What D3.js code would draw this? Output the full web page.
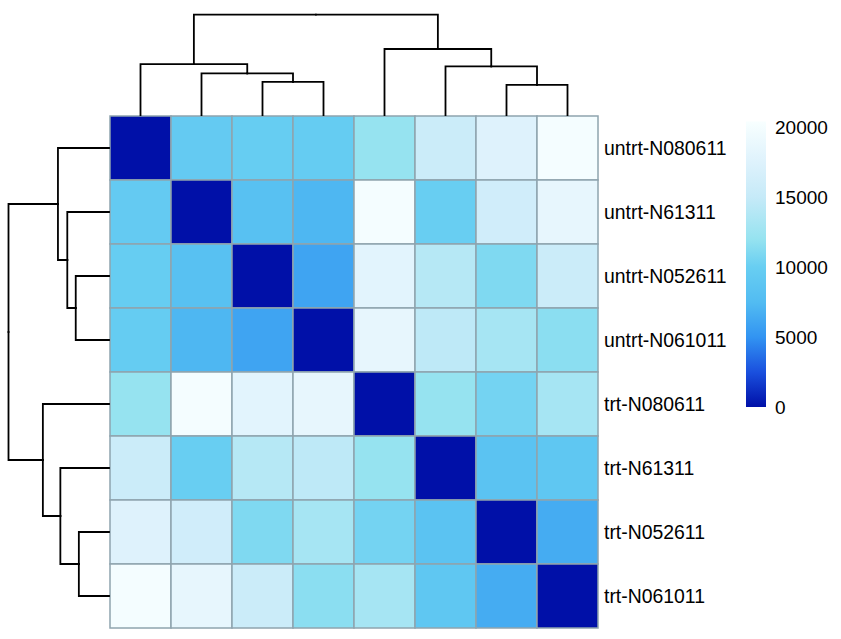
<!DOCTYPE html>
<html><head><meta charset="utf-8">
<script src="https://cdn.jsdelivr.net/npm/d3@7"></script>
<style>body{margin:0;background:#fff;} text{font-family:"Liberation Sans",Arial,Helvetica,sans-serif;}</style>
</head><body>
<svg id="chart" width="841" height="639"></svg>
<script>
// ---- data ----
const samples = ["untrt-N080611","untrt-N61311","untrt-N052611","untrt-N061011",
                 "trt-N080611","trt-N61311","trt-N052611","trt-N061011"];
const dist_untrt_N080611 = [0, 9500, 9800, 9700, 12000, 15500, 17500, 20000];
const dist_untrt_N61311  = [9500, 0, 8200, 7200, 20000, 10000, 16000, 18500];
const dist_untrt_N052611 = [9800, 8200, 0, 6000, 18000, 14000, 11000, 15500];
const dist_untrt_N061011 = [9700, 7200, 6000, 0, 18500, 14500, 13000, 11500];
const dist_trt_N080611   = [12000, 20000, 18000, 18500, 0, 12000, 10500, 13000];
const dist_trt_N61311    = [15500, 10000, 14000, 14500, 12000, 0, 8500, 9000];
const dist_trt_N052611   = [17500, 16000, 11000, 13000, 10500, 8500, 0, 6500];
const dist_trt_N061011   = [20000, 18500, 15500, 11500, 13000, 9000, 6500, 0];
const distRows = [dist_untrt_N080611, dist_untrt_N61311, dist_untrt_N052611, dist_untrt_N061011,
                  dist_trt_N080611, dist_trt_N61311, dist_trt_N052611, dist_trt_N061011];
// dendrograms: [height, left, right]; leaves are sample indices
const rowTree = [100, [50.8, 0, [41.5, 1, [33.1, 2, 3]]], [65.8, 4, [48.4, 5, [30, 6, 7]]]];
const colTree = [100, [50.8, 0, [41.5, 1, [33.1, 2, 3]]], [65.8, 4, [48.4, 5, [30, 6, 7]]]];
const legendTicks = [0, 5000, 10000, 15000, 20000];
const colorStops = [0, 2500, 5000, 7500, 10000, 12000, 15000, 17500, 20400];
const colorValues = ["#0010a8","#1a50de","#3294f2","#52bcf2","#68cef2","#96e3f0","#c6eaf8","#def2fc","#f8ffff"];

// ---- layout ----
const svg = d3.select("#chart");
const gx0 = 110, gx1 = 598, gy0 = 116, gy1 = 628;
const x = d3.scaleBand().domain(d3.range(samples.length)).range([gx0, gx1]);
const y = d3.scaleBand().domain(d3.range(samples.length)).range([gy0, gy1]);
const color = d3.scaleLinear().domain(colorStops).range(colorValues).interpolate(d3.interpolateRgb).clamp(true);

// cells
const cells = [];
distRows.forEach((row, i) => row.forEach((v, j) => cells.push({i, j, v})));
svg.append("g").selectAll("rect").data(cells).join("rect")
  .attr("x", d => x(d.j)).attr("y", d => y(d.i))
  .attr("width", x.bandwidth()).attr("height", y.bandwidth())
  .attr("fill", d => color(d.v))
  .attr("stroke", "#8fa4ae").attr("stroke-width", 1.5);

// dendrograms
function toHier(t) {
  if (typeof t === "number") return {leaf: t, h: 0};
  return {h: t[0], children: [toHier(t[1]), toHier(t[2])]};
}
function drawDendro(tree, posScale, hScale, horizontal) {
  const root = d3.hierarchy(toHier(tree));
  root.eachAfter(n => {
    n.pos = n.children ? d3.mean(n.children, c => c.pos) : posScale(n.data.leaf) + posScale.bandwidth() / 2;
  });
  const segs = [];
  root.each(n => {
    if (!n.children) return;
    const hp = hScale(n.data.h);
    n.children.forEach(c => {
      const hc = hScale(c.data.h);
      segs.push([[c.pos, hc], [c.pos, hp], [n.pos, hp]]);
    });
  });
  const line = d3.line().x(p => horizontal ? p[1] : p[0]).y(p => horizontal ? p[0] : p[1]);
  svg.append("g").selectAll("path").data(segs).join("path")
    .attr("d", line).attr("fill", "none").attr("stroke", "#000").attr("stroke-width", 1.8)
    .attr("stroke-linecap", "square");
}
drawDendro(colTree, x, d3.scaleLinear().domain([0, 100]).range([gy0 - 1, 14.7]), false);
drawDendro(rowTree, y, d3.scaleLinear().domain([0, 100]).range([gx0 - 1, 8.5]), true);

// row labels
svg.append("g").selectAll("text").data(samples).join("text")
  .attr("x", gx1 + 6).attr("y", (d, i) => y(i) + y.bandwidth() / 2 + 7)
  .attr("font-size", 19.4).attr("fill", "#000").text(d => d);

// legend
const lx = 746, lw = 20;
const ly = d3.scaleLinear().domain([0, 20000]).range([407, 127]);
const defs = svg.append("defs");
const grad = defs.append("linearGradient").attr("id", "lg").attr("x1", 0).attr("y1", 1).attr("x2", 0).attr("y2", 0);
const maxV = colorStops[colorStops.length - 1];
grad.selectAll("stop").data(colorStops).join("stop")
  .attr("offset", d => d / maxV).attr("stop-color", d => color(d));
svg.append("rect").attr("x", lx).attr("y", ly(maxV)).attr("width", lw)
  .attr("height", ly(0) - ly(maxV)).attr("fill", "url(#lg)");
svg.append("g").selectAll("text").data(legendTicks).join("text")
  .attr("x", lx + lw + 9).attr("y", d => ly(d) + 7)
  .attr("font-size", 19).attr("fill", "#000").text(d => d);
</script>
</body></html>
